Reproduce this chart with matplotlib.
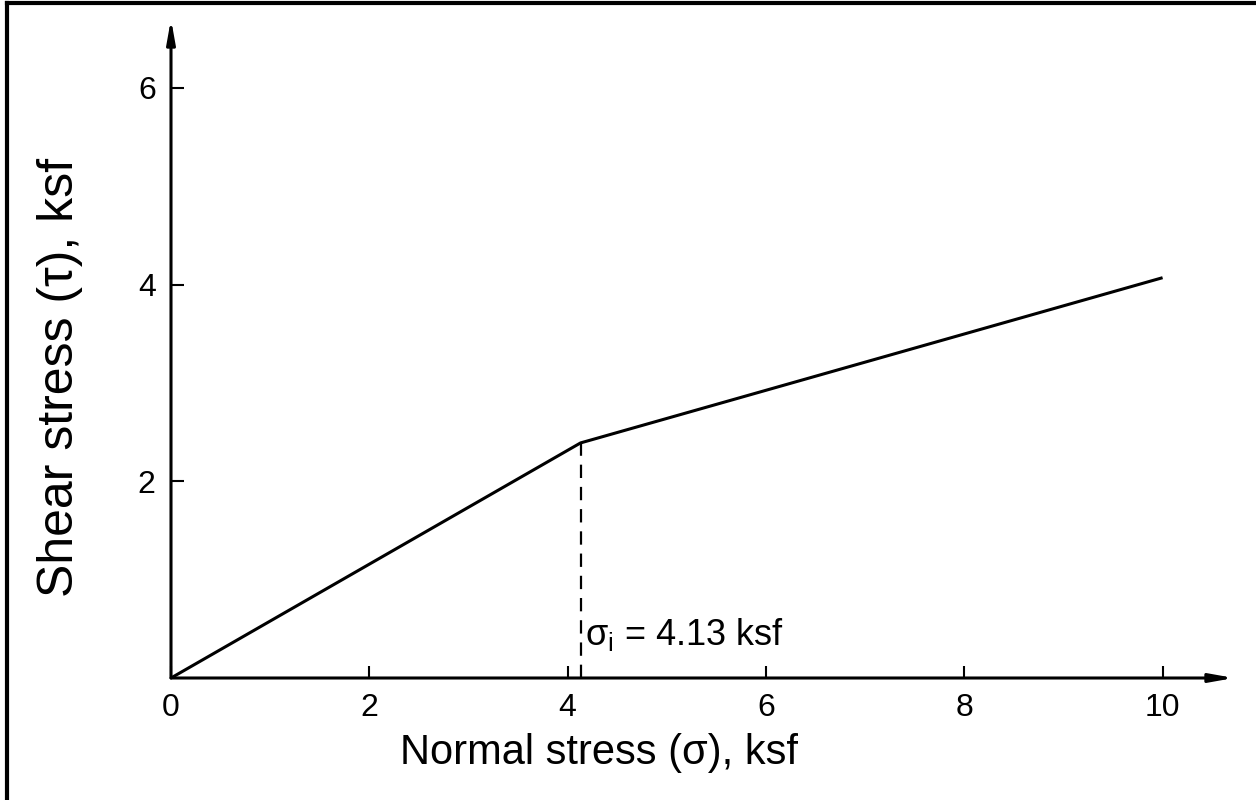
import matplotlib
matplotlib.use("Agg")
import matplotlib.pyplot as plt
from matplotlib.lines import Line2D

plt.rcParams['font.family'] = ['Liberation Sans', 'DejaVu Sans']
plt.rcParams['mathtext.fontset'] = 'custom'
plt.rcParams['mathtext.rm'] = 'Liberation Sans'

# bilinear failure envelope
sigma = [0, 4.13, 10]
tau = [0, 2.39, 4.07]
sigma_i = 4.13
tau_i = 2.39
xticks = [0, 2, 4, 6, 8, 10]
yticks = [2, 4, 6]

fig = plt.figure(figsize=(12.56, 8), dpi=100)
ax = fig.add_axes([171 / 1256, 122 / 800, 1061 / 1256, 658 / 800])
ax.set_xlim(0, 10.7)
ax.set_ylim(0, 6.69)

ax.plot(sigma, tau, color='black', lw=2.2, solid_capstyle='butt', clip_on=False)
ax.plot([sigma_i, sigma_i], [0, tau_i], color='black', lw=1.6, dashes=(6, 4))

# axes with arrowheads
for s in ax.spines.values():
    s.set_visible(False)
ax.annotate('', xy=(10.72, 0), xytext=(0, 0),
            arrowprops=dict(arrowstyle='-|>,head_length=1.4,head_width=0.25', color='black', lw=2.2,
                            shrinkA=0, shrinkB=0), annotation_clip=False)
ax.annotate('', xy=(0, 6.7), xytext=(0, 0),
            arrowprops=dict(arrowstyle='-|>,head_length=1.4,head_width=0.25', color='black', lw=2.2,
                            shrinkA=0, shrinkB=0), annotation_clip=False)

ax.set_xticks(xticks)
ax.set_yticks(yticks)
ax.tick_params(direction='in', length=9, width=1.5, labelsize=23, pad=11)

ax.text(sigma_i + 0.05, 0.34, 'σ$_\\mathrm{i}$ = 4.13 ksf', fontsize=26, ha='left', va='baseline')

ax.set_xlabel('Normal stress (σ), ksf', fontsize=30)
ax.set_ylabel('Shear stress (τ), ksf', fontsize=36)
ax.xaxis.set_label_coords(0.403, -0.084)
ax.yaxis.set_label_coords(-0.083, 0.457)

# frame edges of the scanned figure (top and left only)
fig.add_artist(Line2D([7 / 1256, 7 / 1256], [0, 1 - 3 / 800], color='black', lw=3, transform=fig.transFigure))
fig.add_artist(Line2D([7 / 1256, 1], [1 - 3 / 800, 1 - 3 / 800], color='black', lw=3, transform=fig.transFigure))

fig.savefig('out.png', dpi=100)
